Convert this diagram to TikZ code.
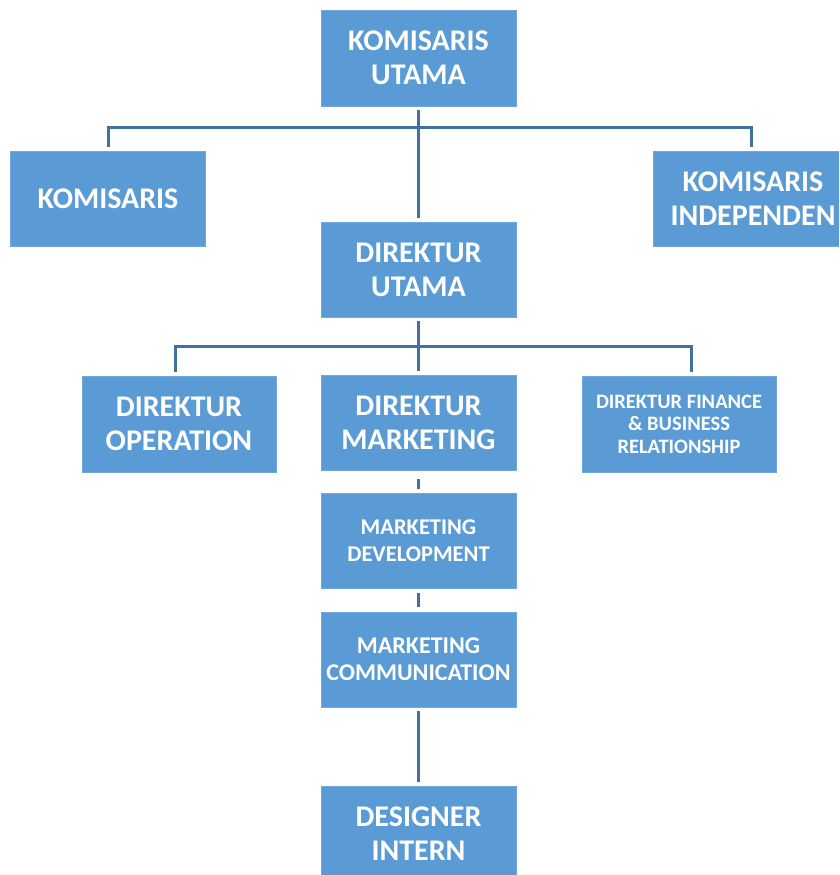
\documentclass[tikz,border=0pt]{standalone}
\usepackage{fontspec}
\setmainfont{Carlito}
\definecolor{boxblue}{HTML}{5B9BD5}
\definecolor{boxedge}{HTML}{6FA8DC}
\definecolor{linkblue}{HTML}{41719C}
\begin{document}
\begin{tikzpicture}[x=1pt,y=-1pt,
  orgbox/.style={draw=boxedge, line width=0.8pt, fill=boxblue, text=white, align=center,
    inner sep=0pt, minimum width=195pt, minimum height=95pt, font=\bfseries\fontsize{30}{34}\selectfont},
  smallbox/.style={orgbox, font=\bfseries\fontsize{22.5}{27}\selectfont},
  tinybox/.style={orgbox, font=\bfseries\fontsize{20.5}{22.5}\selectfont},
  conn/.style={draw=linkblue, line width=3pt, shorten <=4pt, shorten >=4pt}]
\useasboundingbox (0,0) rectangle (839,875);
\clip (0,0) rectangle (839,875);

\node[orgbox, minimum height=96pt] (ku) at (418.5,58) {KOMISARIS\\UTAMA};
\node[orgbox] (k) at (108,198.5) {KOMISARIS};
\node[orgbox, minimum width=200pt] (ki) at (753,198.5) {KOMISARIS\\INDEPENDEN};
\node[orgbox] (du) at (418.5,269.5) {DIREKTUR\\UTAMA};
\node[orgbox, minimum width=194pt, minimum height=96pt] (do) at (179,424) {DIREKTUR\\OPERATION};
\node[orgbox] (dm) at (418.5,423) {DIREKTUR\\MARKETING};
\node[tinybox, minimum width=194pt, minimum height=96pt] (df) at (679,424) {DIREKTUR FINANCE\\\& BUSINESS\\RELATIONSHIP};
\node[smallbox] (md) at (418.5,540.5) {MARKETING\\DEVELOPMENT};
\node[smallbox, font=\bfseries\fontsize{24}{27}\selectfont] (mc) at (418.5,659.5) {MARKETING\\COMMUNICATION};
\node[orgbox] (di) at (418.5,833.5) {DESIGNER\\INTERN};

\coordinate (bar1) at (418.5,127.5);
\coordinate (bar2) at (418.5,346);

% top level
\draw[conn] (ku.south) -- (du.north);
\draw[conn, shorten <=0pt] (bar1) -| (k.north);
\draw[conn, shorten <=0pt] (bar1) -| ([xshift=-2pt]ki.north);
% second level
\draw[conn] (du.south) -- (dm.north);
\draw[conn, shorten <=0pt] (bar2) -| ([xshift=-4pt]do.north);
\draw[conn, shorten <=0pt] (bar2) -| ([xshift=12pt]df.north);
% chain
\draw[conn, shorten <=8pt, shorten >=4pt] (dm.south) -- (md.north);
\draw[conn, shorten <=5pt, shorten >=5pt] (md.south) -- (mc.north);
\draw[conn] (mc.south) -- (di.north);
\end{tikzpicture}
\end{document}
